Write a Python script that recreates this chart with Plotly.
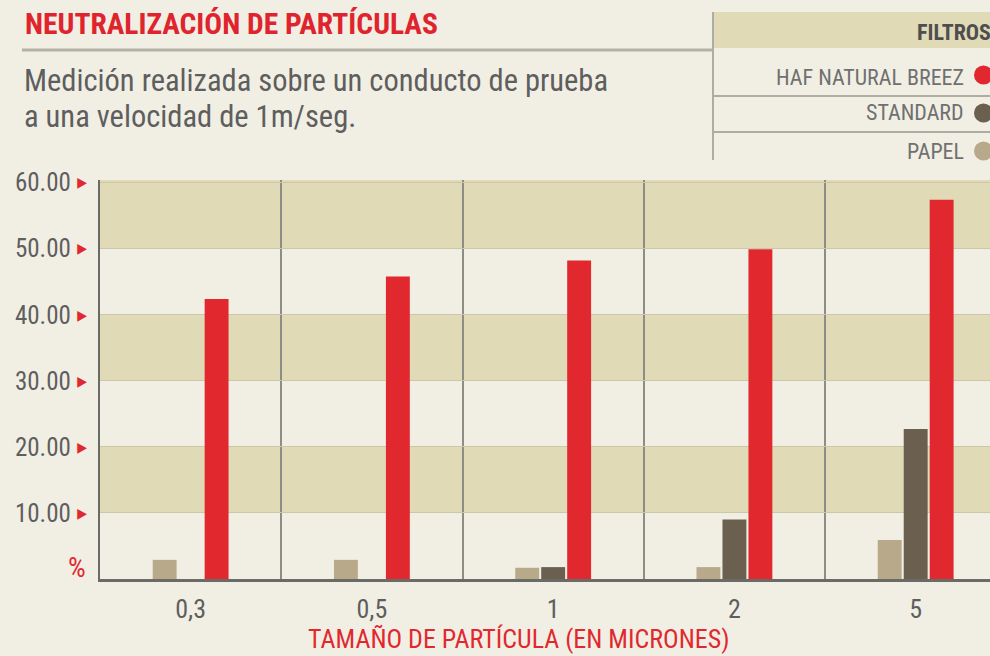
import plotly.graph_objects as go

# ---- data ----
categories = ["0,3", "0,5", "1", "2", "5"]
series_names = ["PAPEL", "STANDARD", "HAF NATURAL BREEZ"]
papel = [2.9, 2.9, 1.7, 1.8, 5.9]
standard = [0.0, 0.0, 1.8, 9.0, 22.7]
haf = [42.4, 45.8, 48.2, 49.9, 57.4]
y_ticks = [10, 20, 30, 40, 50, 60]

RED = "#E1282F"
BROWN = "#6B5F4F"
TAN = "#B8A98A"
BG = "#F1EFE4"
BAND = "#E0DAB6"
FONT = "'Roboto Condensed', 'DejaVu Sans Condensed', sans-serif"
GREY_TXT = "#5E5E5E"

W, H = 990, 656
L, R, T, B = 100, 0, 180, 77
PW, PH = W - L - R, H - T - B


def px(x):
    return (x - L) / PW


def py(y):
    return (H - B - y) / PH


fig = go.Figure()
colors = [TAN, BROWN, RED]
for name, vals, col in zip(series_names, [papel, standard, haf], colors):
    fig.add_trace(go.Bar(x=categories, y=vals, name=name, marker_color=col,
                         marker_line_width=0, showlegend=False))

shapes = []
# horizontal bands
for lo in [10, 30, 50]:
    shapes.append(dict(type="rect", xref="paper", yref="y", x0=0, x1=1, y0=lo,
                       y1=lo + 10.4 if lo == 50 else lo + 10,
                       fillcolor=BAND, line_width=0, layer="below"))
# title rule
shapes.append(dict(type="line", xref="paper", yref="paper", x0=px(22), x1=px(713), y0=py(50), y1=py(50),
                   line=dict(color="#B3B1A8", width=3)))
# legend box
shapes.append(dict(type="rect", xref="paper", yref="paper", x0=px(713), x1=px(990), y0=py(12), y1=py(48),
                   fillcolor=BAND, line_width=0))
shapes.append(dict(type="line", xref="paper", yref="paper", x0=px(713), x1=px(713), y0=py(12), y1=py(160),
                   line=dict(color="#AEACA3", width=2)))
for yy in [96, 132]:
    shapes.append(dict(type="line", xref="paper", yref="paper", x0=px(713), x1=px(990), y0=py(yy), y1=py(yy),
                       line=dict(color="#AEACA3", width=2)))
for yy, col in [(75, RED), (113, BROWN), (151, TAN)]:
    shapes.append(dict(type="circle", xref="paper", yref="paper", x0=px(974), x1=px(993), y0=py(yy - 9.5),
                       y1=py(yy + 9.5), fillcolor=col, line_width=0))

annotations = [
    dict(text="<b>NEUTRALIZACIÓN DE PARTÍCULAS</b>", x=px(23), y=py(24), xref="paper", yref="paper",
         xanchor="left", yanchor="middle", showarrow=False, font=dict(family=FONT, size=29.5, color="#E0242D")),
    dict(text="Medición realizada sobre un conducto de prueba", x=px(22), y=py(81), xref="paper", yref="paper",
         xanchor="left", yanchor="middle", showarrow=False, font=dict(family=FONT, size=30.5, color=GREY_TXT)),
    dict(text="a una velocidad de 1m/seg.", x=px(22), y=py(117), xref="paper", yref="paper",
         xanchor="left", yanchor="middle", showarrow=False, font=dict(family=FONT, size=30.5, color=GREY_TXT)),
    dict(text="<b>FILTROS</b>", x=px(993), y=py(32), xref="paper", yref="paper",
         xanchor="right", yanchor="middle", showarrow=False, font=dict(family=FONT, size=22, color="#4E4E4E")),
    dict(text="TAMAÑO DE PARTÍCULA (EN MICRONES)", x=px(518), y=py(639), xref="paper", yref="paper",
         xanchor="center", yanchor="middle", showarrow=False, font=dict(family=FONT, size=26, color=RED)),
    dict(text="%", x=px(88), y=py(567), xref="paper", yref="paper",
         xanchor="right", yanchor="middle", showarrow=False, font=dict(family=FONT, size=28, color=RED)),
]
for yy, name in [(78, "HAF NATURAL BREEZ"), (113, "STANDARD"), (151, "PAPEL")]:
    annotations.append(dict(text=name, x=px(966), y=py(yy), xref="paper", yref="paper",
                            xanchor="right", yanchor="middle", showarrow=False,
                            font=dict(family=FONT, size=22, color="#707070")))

ticktext = [f"{v:.2f}<span style='color:{RED};font-size:14px;baseline-shift:4px'>  ▶</span>"
            for v in y_ticks]

fig.update_layout(
    width=W, height=H, margin=dict(l=L, r=R, t=T, b=B, pad=0),
    paper_bgcolor=BG, plot_bgcolor=BG,
    barmode="group", bargap=0.57, bargroupgap=0.08,
    shapes=shapes, annotations=annotations,
    font=dict(family=FONT, color=GREY_TXT),
    xaxis=dict(type="category", range=[-0.5, 4.41], tickson="boundaries", showgrid=True,
               gridcolor="#8E8D85", gridwidth=2, ticks="", showline=True, linecolor="#6A6A66", linewidth=3,
               tickfont=dict(family=FONT, size=26, color=GREY_TXT), ticklabelstandoff=5, zeroline=False),
    yaxis=dict(range=[0, 60.4], tickvals=y_ticks, ticktext=ticktext, showgrid=True, gridcolor="#CCC7A8",
               gridwidth=1, ticks="", showline=True, linecolor="#6A6A66", linewidth=2, zeroline=False,
               tickfont=dict(family=FONT, size=25, color=GREY_TXT), ticklabelstandoff=6),
)

fig.write_html("out.html", config={"displayModeBar": False},
               post_script="document.body.style.margin='0';document.body.style.overflow='hidden';")
